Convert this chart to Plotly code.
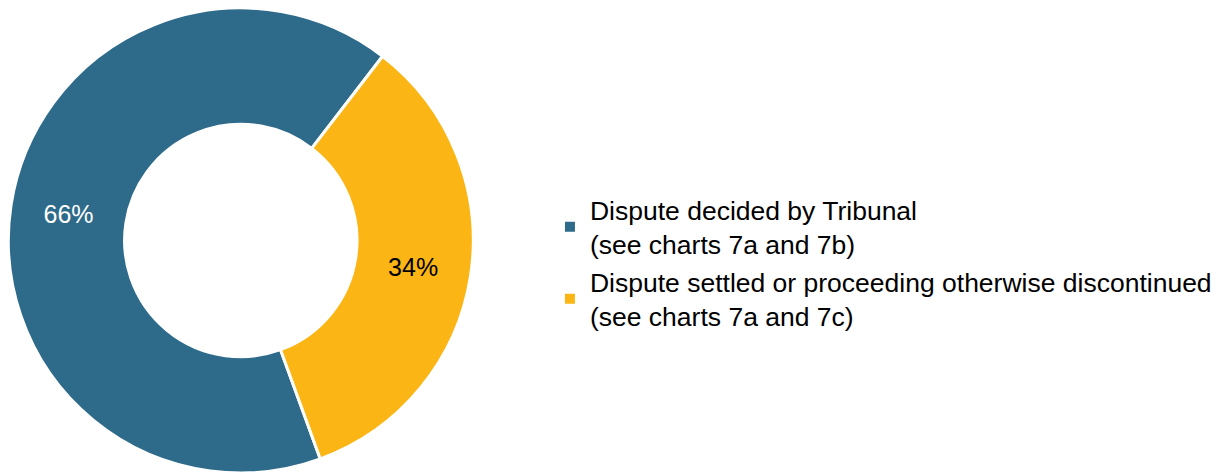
import plotly.graph_objects as go

labels = ["Dispute decided by Tribunal<br>(see charts 7a and 7b)",
          "Dispute settled or proceeding otherwise discontinued<br>(see charts 7a and 7c)"]
values = [66, 34]
colors = ["#2E6A8A", "#FBB616"]
text_colors = ["#FFFFFF", "#000000"]

fig = go.Figure()

fig.add_trace(go.Pie(
    labels=labels,
    values=values,
    hole=0.5,
    sort=False,
    direction="clockwise",
    rotation=160,
    marker=dict(colors=colors, line=dict(color="#FFFFFF", width=3)),
    textinfo="percent",
    texttemplate="%{percent:.0%}",
    textposition="inside",
    insidetextorientation="horizontal",
    textfont=dict(family="Liberation Sans, Arial", size=25, color=text_colors),
    domain=dict(x=[0.0, 0.381], y=[0.015, 1.0]),
))

fig.update_layout(
    width=1222,
    height=472,
    margin=dict(l=0, r=0, t=0, b=0),
    paper_bgcolor="#FFFFFF",
    showlegend=True,
    legend=dict(
        x=0.4435, y=0.46, xanchor="left", yanchor="middle",
        font=dict(family="Liberation Sans, Arial", size=26.5, color="#000000"),
        itemsizing="constant",
    ),
)

fig.write_html("out.html")
